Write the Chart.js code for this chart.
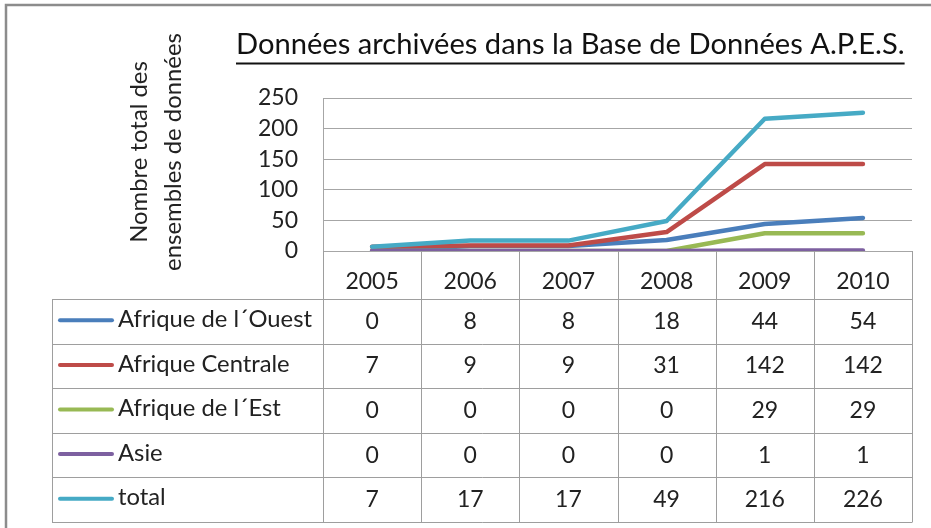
<!DOCTYPE html>
<html>
<head>
<meta charset="utf-8">
<script src="https://cdn.jsdelivr.net/npm/chart.js@4/dist/chart.umd.min.js"></script>
<style>
  html, body { margin: 0; padding: 0; background: #fff; }
  #wrap { width: 931px; height: 528px; position: relative; }
</style>
</head>
<body>
<div id="wrap"><canvas id="c" width="931" height="528"></canvas></div>
<script>
// ---- data ----
const years = ['2005', '2006', '2007', '2008', '2009', '2010'];
const afriqueOuest = [0, 8, 8, 18, 44, 54];
const afriqueCentrale = [7, 9, 9, 31, 142, 142];
const afriqueEst = [0, 0, 0, 0, 29, 29];
const asie = [0, 0, 0, 0, 1, 1];
const total = [7, 17, 17, 49, 216, 226];
const seriesNames = ['Afrique de l\u00B4Ouest', 'Afrique Centrale', 'Afrique de l\u00B4Est', 'Asie', 'total'];
const yMin = 0, yMax = 250, yStep = 50;
const chartTitle = 'Données archivées dans la Base de Données A.P.E.S.';
const yTitleLines = ['Nombre total des', 'ensembles de données'];

const colors = ['#4A7EBB', '#BE4B48', '#98B954', '#7D60A0', '#46AAC5'];
const FONT = 'Lato, "Open Sans", sans-serif';
const GRID = '#A6A6A6';
const TABLE_LINE = '#9E9E9E';

function fitSize(ctx, text, target, base) {
  ctx.font = base + 'px ' + FONT;
  const w = ctx.measureText(text).width;
  return base * target / w;
}

const tablePlugin = {
  id: 'tablePlugin',
  beforeDraw(chart) {
    const ctx = chart.ctx;
    ctx.save();
    ctx.fillStyle = '#fff';
    ctx.fillRect(0, 0, chart.width, chart.height);
    // outer frame
    ctx.strokeStyle = '#8C8C8C';
    ctx.lineWidth = 2.5;
    ctx.beginPath();
    ctx.moveTo(6, chart.height + 5);
    ctx.lineTo(6, 5);
    ctx.lineTo(chart.width + 5, 5);
    ctx.stroke();
    ctx.restore();
  },
  afterDraw(chart) {
    const ctx = chart.ctx;
    const xs = chart.scales.x;
    const area = chart.chartArea;
    const n = years.length;
    const colW = (xs.getPixelForValue(1) - xs.getPixelForValue(0));
    const labelTop = area.bottom;
    const tableTop = 299;
    const tableBottom = 522;
    const tableLeft = 52;
    const rowH = (tableBottom - tableTop) / seriesNames.length;
    ctx.save();

    // title
    const tSize = fitSize(ctx, chartTitle, 669, 24);
    ctx.font = tSize + 'px ' + FONT;
    ctx.fillStyle = '#111';
    ctx.textAlign = 'left';
    ctx.textBaseline = 'alphabetic';
    ctx.fillText(chartTitle, 236, 54);
    const tw = ctx.measureText(chartTitle).width;
    ctx.fillRect(236, 62.5, tw, 2);

    // y axis title (rotated)
    const ySize = fitSize(ctx, yTitleLines[1], 238, 22);
    ctx.font = ySize + 'px ' + FONT;
    ctx.fillStyle = '#222';
    ctx.textAlign = 'center';
    const ybx = [147, 181];
    yTitleLines.forEach((line, i) => {
      ctx.save();
      ctx.translate(ybx[i], 152);
      ctx.rotate(-Math.PI / 2);
      ctx.fillText(line, 0, 0);
      ctx.restore();
    });

    // table lines
    ctx.strokeStyle = TABLE_LINE;
    ctx.lineWidth = 1;
    ctx.beginPath();
    for (let i = 0; i <= n; i++) {
      const x = Math.round(xs.getPixelForValue(i) - colW / 2) + 0.5;
      ctx.moveTo(x, labelTop);
      ctx.lineTo(x, tableBottom);
    }
    const lx = tableLeft + 0.5;
    ctx.moveTo(lx, tableTop);
    ctx.lineTo(lx, tableBottom);
    const rightX = Math.round(xs.getPixelForValue(n - 1) + colW / 2) + 0.5;
    for (let r = 0; r <= seriesNames.length; r++) {
      const y = Math.round(tableTop + r * rowH) + 0.5;
      ctx.moveTo(tableLeft, y);
      ctx.lineTo(rightX, y);
    }
    ctx.stroke();

    // table content
    const datasets = chart.data.datasets;
    const lblSize = fitSize(ctx, seriesNames[0], 194, 22);
    seriesNames.forEach((name, r) => {
      const cy = tableTop + (r + 0.5) * rowH;
      const ds = datasets[r];
      // legend key
      ctx.strokeStyle = ds.borderColor;
      ctx.lineWidth = 4;
      ctx.lineCap = 'round';
      ctx.beginPath();
      ctx.moveTo(60, cy - 1);
      ctx.lineTo(112, cy - 1);
      ctx.stroke();
      ctx.fillStyle = '#222';
      ctx.font = lblSize + 'px ' + FONT;
      ctx.textAlign = 'left';
      ctx.textBaseline = 'middle';
      ctx.fillText(name, 118, cy - 2);
      ctx.font = '23px ' + FONT;
      ctx.textAlign = 'center';
      ds.data.forEach((v, i) => {
        ctx.fillText(String(v), xs.getPixelForValue(i), cy);
      });
    });
    ctx.restore();
  }
};

const seriesData = [afriqueOuest, afriqueCentrale, afriqueEst, asie, total];
const datasets = seriesData.map((d, i) => ({
  label: seriesNames[i],
  data: d,
  borderColor: colors[i],
  backgroundColor: colors[i],
  borderWidth: 4.5,
  pointRadius: 0,
  pointHoverRadius: 0,
  tension: 0,
  borderCapStyle: 'round',
  borderJoinStyle: 'round',
  order: seriesData.length - i
}));

new Chart(document.getElementById('c'), {
  type: 'line',
  data: { labels: years, datasets },
  options: {
    responsive: false,
    animation: false,
    devicePixelRatio: 1,
    layout: { padding: { left: 0, right: 19, top: 98, bottom: 229 } },
    plugins: { legend: { display: false }, tooltip: { enabled: false }, title: { display: false } },
    scales: {
      x: {
        type: 'category',
        offset: true,
        grid: { display: false, offset: true },
        border: { display: true, color: GRID, width: 1 },
        ticks: { color: '#222', font: { family: FONT, size: 23 }, padding: 9, maxRotation: 0, autoSkip: false },
        afterFit(s) { s.height = 48; }
      },
      y: {
        min: yMin,
        max: yMax,
        ticks: { stepSize: yStep, color: '#222', font: { family: FONT, size: 23 }, padding: 25 },
        grid: { color: GRID, lineWidth: 1, drawTicks: false },
        border: { display: true, color: GRID, width: 1 },
        afterFit(s) { s.width = 323; }
      }
    }
  },
  plugins: [tablePlugin]
});
</script>
</body>
</html>
